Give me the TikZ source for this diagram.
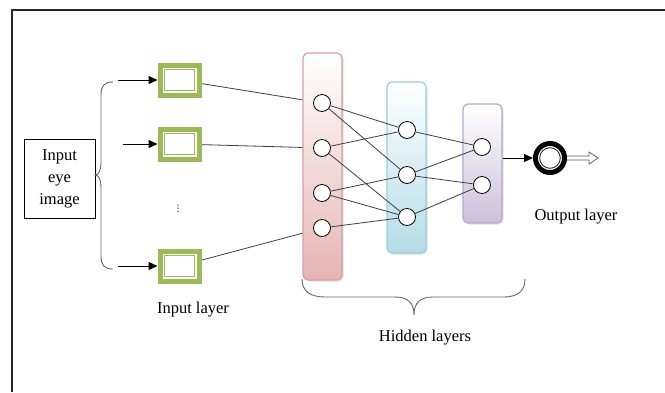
\documentclass[tikz,border=0pt]{standalone}
\usepackage{fontspec}
\setmainfont{Liberation Serif}
\newfontfamily\dvfont{DejaVu Sans}
\usetikzlibrary{arrows.meta,shadows,calc}
\pgfdeclarelayer{back}\pgfdeclarelayer{bg}\pgfdeclarelayer{mid}\pgfsetlayers{back,bg,mid,main}
\definecolor{grn}{HTML}{9BBB59}
\definecolor{pinkb}{HTML}{E6B5B4}
\definecolor{pinkd}{HTML}{D9A0A0}
\definecolor{cyanb}{HTML}{B4DCE7}
\definecolor{cyand}{HTML}{9ACFDD}
\definecolor{purb}{HTML}{CBC0DA}
\definecolor{purd}{HTML}{B8A9CC}
\definecolor{lin}{HTML}{404040}
\begin{document}
\begin{tikzpicture}[x=1pt,y=-1pt,
 font=\fontsize{16.5}{22}\selectfont,
 col/.style={rectangle, rounded corners=5pt, line width=1.2pt, top color=white, minimum width=39pt, inner sep=0pt, drop shadow={shadow xshift=1.5pt, shadow yshift=-1.5pt, opacity=0.25}},
 neuron/.style={circle, draw=black, line width=0.8pt, fill=white, minimum size=17pt, inner sep=0pt},
 inbox/.style={rectangle, draw=grn, line width=5pt, fill=white, minimum width=39pt, minimum height=30pt, inner sep=0pt, path picture={\draw[grn, line width=0.9pt] ([xshift=4.5pt,yshift=-4.5pt]path picture bounding box.north west) rectangle ([xshift=-4.5pt,yshift=4.5pt]path picture bounding box.south east);}},
 conn/.style={draw=lin, line width=0.8pt},
 arr/.style={draw=black, line width=1pt, -{Triangle[length=9pt,width=8pt]}},
 bracep/.style={draw=gray!80!black, line width=0.9pt},
 lbl/.style={inner sep=0pt}]
\useasboundingbox (0,0) rectangle (665,392);
\begin{pgfonlayer}{back}
\fill[white] (0,0) rectangle (665,392);
\end{pgfonlayer}
% frame
\draw[line width=1.3pt, black!85] (12,392) -- (12,10) -- (665,10);

% columns
\begin{pgfonlayer}{mid}
\node[col, draw=pinkd, bottom color=pinkb, minimum height=227pt] (hp) at (322.5,166.5) {};
\node[col, draw=cyand, bottom color=cyanb, minimum height=171pt] (hc) at (406.5,167.5) {};
\node[col, draw=purd, bottom color=purb, minimum height=119pt] (hq) at (482.5,163.5) {};
\end{pgfonlayer}

% neurons
\node[neuron] (p1) at (322,103) {};
\node[neuron] (p2) at (322,148) {};
\node[neuron] (p3) at (322,193) {};
\node[neuron] (p4) at (322,228) {};
\node[neuron] (c1) at (407,130) {};
\node[neuron] (c2) at (407,175) {};
\node[neuron] (c3) at (407,217) {};
\node[neuron] (q1) at (482,147) {};
\node[neuron] (q2) at (482,185) {};

% hidden connections
\draw[conn] (p1) -- (c1);
\draw[conn] (p1) -- (c2);
\draw[conn] (p2) -- (c1);
\draw[conn] (p2) -- (c3);
\draw[conn] (p3) -- (c2);
\draw[conn] (p3) -- (c3);
\draw[conn] (p4) -- (c3);
\draw[conn] (c1) -- (q1);
\draw[conn] (c2) -- (q1);
\draw[conn] (c2) -- (q2);
\draw[conn] (c3) -- (q2);

% input boxes
\node[inbox] (in1) at (179.5,80) {};
\node[inbox] (in2) at (179.5,144) {};
\node[inbox] (in3) at (179.5,266) {};
\node[lbl] (dots) at (178,209) {\dvfont\fontsize{9}{9}\selectfont ⋮};

\begin{pgfonlayer}{bg}
\draw[conn] (in1) -- (p1);
\draw[conn] (in2) -- (p2);
\draw[conn] (in3) -- (p4);
\end{pgfonlayer}

% input image box
\node[draw, line width=0.8pt, minimum width=71pt, minimum height=79pt, align=center, inner sep=0pt] (img) at (59.5,178.5) {Input\\eye\\image};

% left brace
\draw[bracep] (113,82) .. controls (104,82) and (101,86) .. (101,95) -- (101,162) .. controls (101,170) and (99,175) .. (95,175) .. controls (99,175) and (101,180) .. (101,188) -- (101,256) .. controls (101,265) and (104,269) .. (113,269);

% arrows into input boxes
\coordinate (a1) at (118,80);
\coordinate (a2) at (123,144);
\coordinate (a3) at (118,266);
\draw[arr] (a1) -- (in1);
\draw[arr] (a2) -- (in2);
\draw[arr] (a3) -- (in3);

% output
\node[circle, draw=black, line width=5pt, minimum size=29pt, inner sep=0pt, fill=white] (out) at (550,158) {};
\draw[line width=0.9pt, black!80] (out.center) circle (10.3);
\draw[arr] (out -| hq.east) -- (out);
\coordinate (oarr) at (598,158);
\draw[draw=gray!70!black, line width=0.7pt, fill=white] ($(oarr)+(-31,-2)$) -- ($(oarr)+(-9,-2)$) -- ($(oarr)+(-9,-6)$) -- (oarr) -- ($(oarr)+(-9,6)$) -- ($(oarr)+(-9,2)$) -- ($(oarr)+(-31,2)$);

% bottom brace
\draw[bracep] (302,279) .. controls (302,291) and (310,297) .. (325,297) -- (395,297) .. controls (408,297) and (414,303) .. (414,315) .. controls (414,303) and (420,297) .. (433,297) -- (503,297) .. controls (518,297) and (525,291) .. (525,279);

% labels
\node[lbl] (linput) at (193,310) {Input layer};
\node[lbl] (lhidden) at (425,338) {Hidden layers};
\node[lbl] (loutput) at (576,217) {Output layer};
\end{tikzpicture}
\end{document}
